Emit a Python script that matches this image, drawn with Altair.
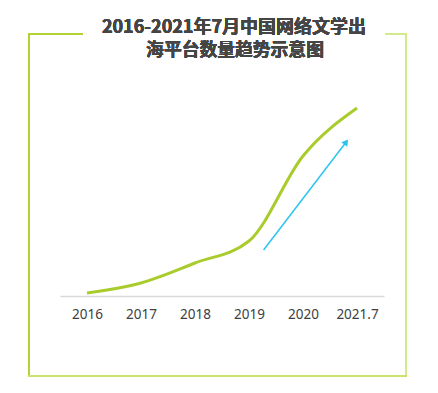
import altair as alt
import pandas as pd

# Data
labels = ["2016", "2017", "2018", "2019", "2020", "2021.7"]
values = [3, 13, 33, 55, 140, 188]

arrow_x = [3.27, 4.80]
arrow_y = [46, 154]

title_lines = ["2016-2021年7月中国网络文学出", "海平台数量趋势示意图"]

df = pd.DataFrame({"i": list(range(len(labels))), "label": labels, "v": values})
arrow_df = pd.DataFrame({"x": [arrow_x[0]], "y": [arrow_y[0]], "x2": [arrow_x[1]], "y2": [arrow_y[1]]})
head_df = pd.DataFrame({"x": [arrow_x[1]], "y": [arrow_y[1]]})

label_expr = "[" + ",".join("'%s'" % l for l in labels) + "][datum.value]"

xscale = alt.Scale(domain=[-0.5, 5.5], nice=False, zero=False)
yscale = alt.Scale(domain=[0, 200], nice=False)

line = alt.Chart(df).mark_line(
    interpolate="monotone", color="#a9cc2c", strokeWidth=3, clip=False
).encode(
    x=alt.X("i:Q", scale=xscale, axis=alt.Axis(
        values=list(range(len(labels))), labelExpr=label_expr, title=None,
        grid=False, ticks=False, domainColor="#d9d9d9", domainWidth=1.5,
        labelColor="#404040", labelFontSize=13.5, labelFont="Noto Sans",
        labelPadding=11)),
    y=alt.Y("v:Q", scale=yscale, axis=None),
)

arrow = alt.Chart(arrow_df).mark_rule(color="#2cc4ee", strokeWidth=1.5).encode(
    x=alt.X("x:Q", scale=xscale), y=alt.Y("y:Q", scale=yscale),
    x2="x2:Q", y2="y2:Q",
)
head = alt.Chart(head_df).mark_point(
    shape="triangle-up", filled=True, color="#2cc4ee", size=55, angle=37, opacity=1
).encode(x=alt.X("x:Q", scale=xscale), y=alt.Y("y:Q", scale=yscale))

# Title as two text lines
t1 = alt.Chart(df).mark_text(
    text=title_lines[0], fontSize=18, fontWeight="bold", color="#454545",
    font="Noto Sans CJK SC", align="center", baseline="middle", clip=False
).encode(x=alt.value(174), y=alt.value(-68))
t2 = alt.Chart(df).mark_text(
    text=title_lines[1], fontSize=17.8, fontWeight="bold", color="#454545",
    font="Noto Sans CJK SC", align="center", baseline="middle", clip=False
).encode(x=alt.value(175), y=alt.value(-45))

# Frame (decorative, pixel positions relative to plot origin)
fc_left = "#b3d334"
fc = "#c9e36a"
fc_right = "#d3ea8c"
frame_left = alt.Chart(df).mark_rule(color=fc_left, strokeWidth=2, clip=False).encode(
    x=alt.value(-31), y=alt.value(-62), y2=alt.value(280))
frame_right = alt.Chart(df).mark_rule(color=fc_right, strokeWidth=2, clip=False).encode(
    x=alt.value(346), y=alt.value(-62), y2=alt.value(280))
frame_bottom = alt.Chart(df).mark_rule(color=fc, strokeWidth=2, clip=False).encode(
    x=alt.value(-32), x2=alt.value(347), y=alt.value(280))
frame_top_l = alt.Chart(df).mark_rule(color=fc_left, strokeWidth=2, clip=False).encode(
    x=alt.value(-32), x2=alt.value(23), y=alt.value(-62))
frame_top_r = alt.Chart(df).mark_rule(color=fc_right, strokeWidth=2, clip=False).encode(
    x=alt.value(325), x2=alt.value(347), y=alt.value(-62))

chart = alt.layer(
    frame_left, frame_right, frame_bottom, frame_top_l, frame_top_r,
    line, arrow, head, t1, t2
).properties(
    width=324, height=200,
    autosize=alt.AutoSizeParams(type="none"),
    padding={"left": 52, "top": 88, "right": 40, "bottom": 90},
).configure_view(stroke=None)

chart.save("out.html", embed_options={"renderer": "svg", "actions": False})
